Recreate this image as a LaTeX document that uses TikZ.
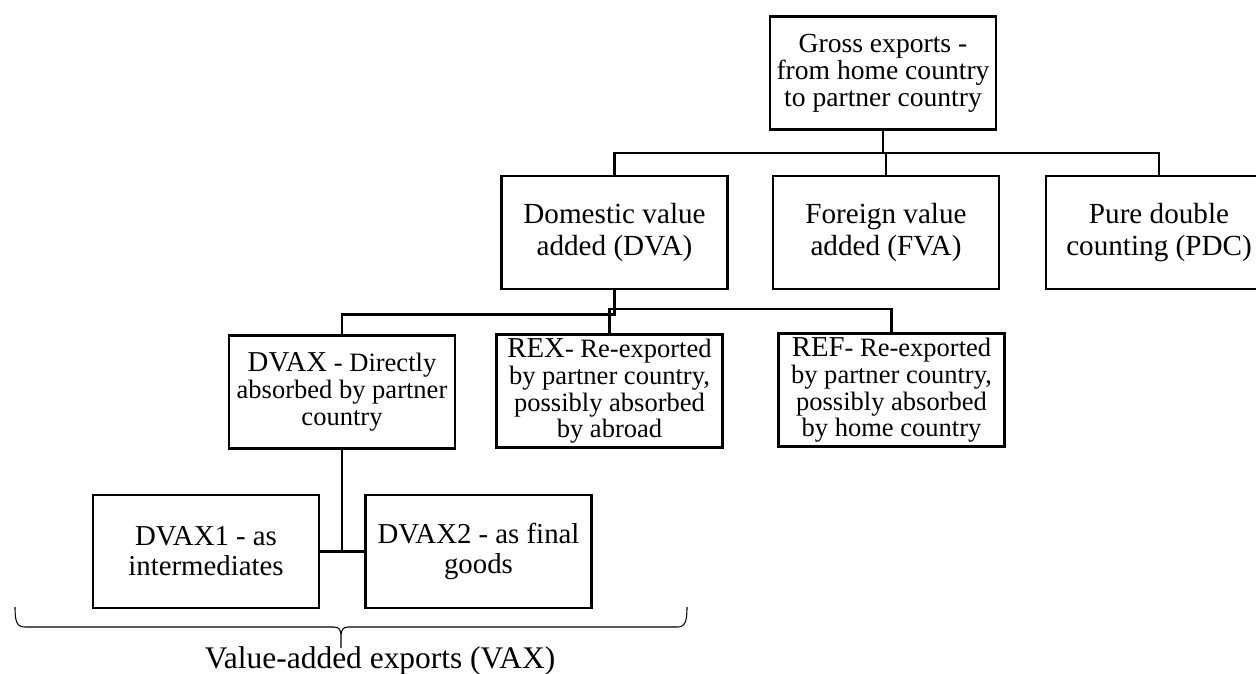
\documentclass[tikz,border=0pt]{standalone}
\usepackage{fontspec}
\setmainfont{Liberation Serif}
\usepackage{tikz}

% first word of a third-level box is set a bit larger
\newcommand{\headword}[1]{{\fontsize{16.4}{15.3}\selectfont #1}}

\begin{document}
\begin{tikzpicture}[x=0.02cm, y=-0.02cm,
    box/.style={draw, line width=1.5pt, minimum width=4.52cm,
      minimum height=2.26cm, inner sep=0pt, align=center},
    link/.style={line width=1.4pt}]
  \useasboundingbox (0,0) rectangle (1256,673);
  % Units are pixels of the 1256 x 673 frame, y grows downwards
  % Top: box y = 17..129
  \node[box, font=\fontsize{15.7}{15.3}\selectfont] (gross) at (883,73)
    {Gross exports -\\from home country\\to partner country};
  % Second level: y = 176..289
  \node[box, font=\fontsize{16.6}{18.1}\selectfont] (dva) at (614.5,232.5)
    {Domestic value\\added (DVA)};
  \node[box, font=\fontsize{16.6}{18.1}\selectfont] (fva) at (886,232.5)
    {Foreign value\\added (FVA)};
  \node[box, font=\fontsize{16.6}{18.1}\selectfont] (pdc) at (1159,232.5)
    {Pure double\\counting (PDC)};
  % Third level: y = 335..447
  \node[box, font=\fontsize{15.1}{15.3}\selectfont] (dvax) at (342,392)
    {\headword{DVAX} - Directly\\absorbed by partner\\country};
  \node[box, font=\fontsize{15.1}{15.3}\selectfont] (rex) at (609.5,391)
    {\headword{REX}- Re-exported\\by partner country,\\possibly absorbed\\by abroad};
  \node[box, font=\fontsize{15.1}{15.3}\selectfont] (ref) at (891.5,390)
    {\headword{REF}- Re-exported\\by partner country,\\possibly absorbed\\by home country};
  % Fourth level: y = 495..608
  \node[box, font=\fontsize{16.4}{17}\selectfont] (dvax1) at (206,551.5)
    {DVAX1 - as\\intermediates};
  \node[box, font=\fontsize{16.4}{17}\selectfont] (dvax2) at (478.5,551.5)
    {DVAX2 - as final\\goods};

  % Connectors
  \coordinate (bus1) at (883,153);
  \draw[link] (gross.south) -- (bus1);
  \draw[link] (dva.north) |- (bus1) -| (pdc.north);
  \draw[link] (fva.north) -- (fva.north |- bus1);
  \draw[link] (dva.south) -- ++(0,24) -| (dvax.north);
  \draw[link] (rex.north) -- ++(0,-24) -| (ref.north);
  \coordinate (bus3) at (dvax.south |- dvax1.east);
  \draw[link] (dvax.south) -- (bus3);
  \draw[link] (dvax1.east) -- (dvax2.west);

  % Brace under the two value-added boxes, tip at x = 341
  \draw[line width=0.6pt]
    (15,607) .. controls (15,622) and (17,627) .. (25,627) -- (334,627)
    .. controls (339,627) and (341,630) .. (341,636) -- (341,648)
    -- (341,636) .. controls (341,630) and (343,627) .. (348,627)
    -- (677,627) .. controls (685,627) and (687,622) .. (687,607);
  \node[font=\fontsize{17.9}{20}\selectfont, anchor=base] (vax) at (380,668)
    {Value-added exports (VAX)};
\end{tikzpicture}
\end{document}
